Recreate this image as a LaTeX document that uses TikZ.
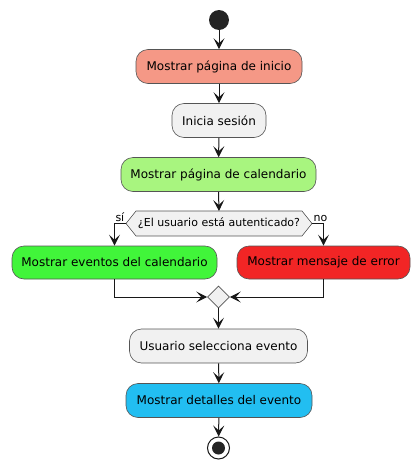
\documentclass[tikz,border=0pt]{standalone}
\usepackage{fontspec}
\setmainfont{DejaVu Sans}
\usetikzlibrary{arrows.meta,shapes.geometric,calc}
\definecolor{cSalmon}{HTML}{F59886}
\definecolor{cGray}{HTML}{F1F1F1}
\definecolor{cLGreen}{HTML}{A8F57F}
\definecolor{cGreen}{HTML}{41F53A}
\definecolor{cRed}{HTML}{F22525}
\definecolor{cBlue}{HTML}{22BEF1}
\definecolor{cLine}{HTML}{181818}
\definecolor{cBorder}{HTML}{555555}
\tikzset{
  act/.style={draw=cBorder, line width=0.6pt, rounded corners=12pt, minimum height=34pt, inner sep=0pt, font=\fontsize{12pt}{14pt}\selectfont, text=black},
  flow/.style={draw=cLine, line width=1pt, -{Stealth[length=11pt,width=11pt,inset=5pt]}},
  lbl/.style={font=\fontsize{11pt}{13pt}\selectfont, inner sep=1pt},
}
\begin{document}
\begin{tikzpicture}[x=1pt,y=-1pt]
\useasboundingbox (0,0) rectangle (420,469);
% start
\node[circle, fill=cLine!95, minimum size=20pt, inner sep=0pt] (start) at (219,20) {};
\node[act, fill=cSalmon, minimum width=166pt] (b1) at (219,66.5) {Mostrar página de inicio};
\node[act, fill=cGray, minimum width=94pt] (b2) at (219,120.5) {Inicia sesión};
\node[act, fill=cLGreen, minimum width=195pt] (b3) at (218.5,174.5) {Mostrar página de calendario};
% decision
\node[lbl, inner sep=0pt] (dec) at (219,223.5) {\phantom{¿El usuario está autenticado?}};
\coordinate (decL) at ($(dec.center)+(-93,0)$);
\coordinate (decR) at ($(dec.center)+(93,0)$);
\coordinate (decT) at ($(dec.center)+(0,-12.5)$);
\draw[draw=cBorder, line width=0.6pt, fill=cGray] (decL) -- ++(10,-12.5) -- ($(decR)+(-10,-12.5)$) -- (decR) -- ++(-10,12.5) -- ($(decL)+(10,12.5)$) -- cycle;
\node[lbl, inner sep=0pt] at (dec.center) {¿El usuario está autenticado?};
\node[act, fill=cGreen, minimum width=205pt, minimum height=33pt] (b4) at (114.5,262.5) {Mostrar eventos del calendario};
\node[act, fill=cRed, minimum width=173pt, minimum height=33pt] (b5) at (323.5,262.5) {Mostrar mensaje de error};
\node[diamond, draw=cBorder, line width=0.6pt, fill=cGray, minimum width=22pt, minimum height=22pt, inner sep=0pt] (merge) at (218.5,297) {};
\node[act, fill=cGray, minimum width=178pt] (b6) at (218.5,346) {Usuario selecciona evento};
\node[act, fill=cBlue, minimum width=186pt] (b7) at (219,400.5) {Mostrar detalles del evento};
% end
\node[circle, draw=cLine, line width=1pt, fill=white, minimum size=22pt, inner sep=0pt] (stop) at (218.5,448) {};
\node[circle, fill=cLine!95, minimum size=13pt, inner sep=0pt] at (stop.center) {};
% connectors
\draw[flow] (start) -- (b1);
\draw[flow] (b1) -- (b2);
\draw[flow] (b2) -- (b3);
\draw[flow] (b3.south) -- (decT);
\draw[flow] (decL) -| (b4.north);
\draw[flow] (decR) -| (b5.north);
\draw[flow] (b4.south) |- (merge.west);
\draw[flow] (b5.south) |- (merge.east);
\draw[flow] (merge) -- (b6);
\draw[flow] (b6) -- (b7);
\draw[flow] (b7) -- (stop);
\node[lbl, anchor=south east] (yes) at ($(decL)+(-0.5,-1)$) {sí};
\node[lbl, anchor=south west] (no) at ($(decR)+(0.5,-1)$) {no};
\end{tikzpicture}
\end{document}
